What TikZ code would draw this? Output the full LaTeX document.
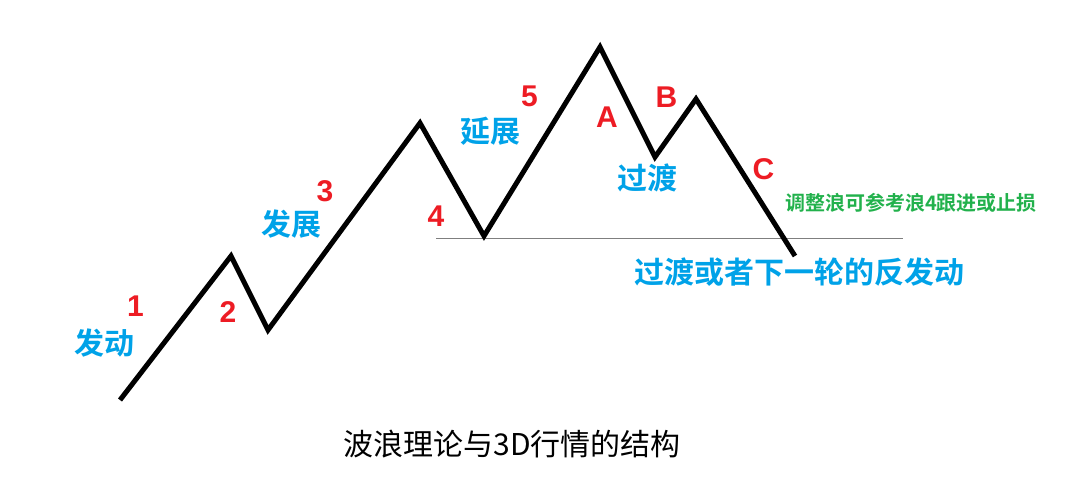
\documentclass[tikz,border=0pt]{standalone}
\usepackage{fontspec}
\setmainfont{Noto Sans CJK SC}
\newfontfamily\cjkbold{Noto Sans CJK SC Bold}
\newfontfamily\latbold{Liberation Sans}[BoldFont={Liberation Sans Bold}]
\definecolor{wred}{HTML}{ED1C24}
\definecolor{wblue}{HTML}{00A2E8}
\definecolor{wgreen}{HTML}{22B14C}
\definecolor{wgray}{HTML}{7F7F7F}
\tikzset{
  wavenum/.style={inner sep=0pt, text=wred, font=\latbold\bfseries\fontsize{30}{30}\selectfont},
  phase/.style={inner sep=0pt, text=wblue, font=\cjkbold\fontsize{30}{30}\selectfont},
  note/.style={inner sep=0pt, text=wgreen, font=\cjkbold\fontsize{20}{20}\selectfont},
  caption/.style={inner sep=0pt, text=black, font=\fontsize{30}{30}\selectfont},
  wave/.style={line width=5pt, black},
  support/.style={line width=1pt, wgray}
}
\begin{document}
\begin{tikzpicture}[x=1pt,y=-1pt]
\useasboundingbox (0,0) rectangle (1073,496);
% wave points
\coordinate (p0) at (120,400);
\coordinate (p1) at (231,256);
\coordinate (p2) at (268,330);
\coordinate (p3) at (420,123);
\coordinate (p4) at (484,236);
\coordinate (p5) at (600,47);
\coordinate (pa) at (655,157);
\coordinate (pb) at (696,99);
\coordinate (pc) at (795,256);
\coordinate (l0) at (436,238);
\coordinate (l1) at (903,238);
\draw[support] (l0) -- (l1);
\draw[wave] (p0) -- (p1) -- (p2) -- (p3) -- (p4) -- (p5) -- (pa) -- (pb) -- (pc);
% labels
\node[wavenum] (n1) at (135.5,306) {1};
\node[wavenum] (n2) at (228,312) {2};
\node[wavenum] (n3) at (325,191) {3};
\node[wavenum] (n4) at (436,216) {4};
\node[wavenum] (n5) at (529.5,96) {5};
\node[wavenum] (na) at (607,117.5) {A};
\node[wavenum] (nb) at (666.5,97.5) {B};
\node[wavenum] (nc) at (763.5,169) {C};
\node[phase] (t1) at (104,343) {发动};
\node[phase] (t2) at (291,224) {发展};
\node[phase] (t3) at (490,131) {延展};
\node[phase] (t4) at (647,177.5) {过渡};
\node[phase] (t5) at (799,272.5) {过渡或者下一轮的反发动};
\node[note] (g) at (911,202.5) {调整浪可参考浪4跟进或止损};
\node[caption] (cap) at (512,444) {波浪理论与3D行情的结构};
\end{tikzpicture}
\end{document}
